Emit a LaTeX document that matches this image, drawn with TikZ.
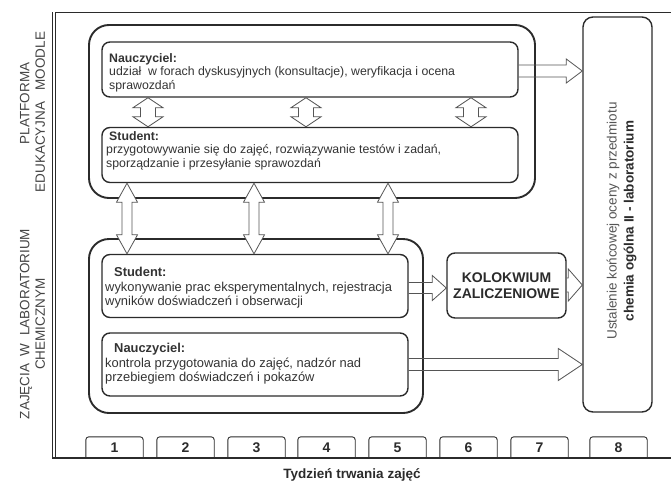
\documentclass[tikz,border=0pt]{standalone}
\usepackage{fontspec}
\setmainfont{Liberation Sans}
\usetikzlibrary{calc}
\definecolor{ln}{HTML}{2B2B2B}
\definecolor{tx}{HTML}{333333}
\definecolor{ar}{HTML}{555555}
\definecolor{lt}{HTML}{555555}
\definecolor{sd}{HTML}{444444}

% vertical double arrow: #1 x, #2 upper node, #3 lower node, #4 half head width, #5 half shaft width, #6 head length
\newcommand{\vdarrow}[6]{%
  \draw[dblarr] let \p1=(#2.south), \p2=(#3.north) in
   (#1pt,\y1) -- ({#1pt+#4pt},{\y1-#6pt}) -- ({#1pt+#5pt},{\y1-#6pt})
   -- ({#1pt+#5pt},{\y2+#6pt}) -- ({#1pt+#4pt},{\y2+#6pt}) -- (#1pt,\y2)
   -- ({#1pt-#4pt},{\y2+#6pt}) -- ({#1pt-#5pt},{\y2+#6pt})
   -- ({#1pt-#5pt},{\y1-#6pt}) -- ({#1pt-#4pt},{\y1-#6pt}) -- cycle;}
% horizontal single arrow: #1 y, #2 from node, #3 to node, #4 half head, #5 half shaft, #6 head length
\newcommand{\hsarrow}[6]{%
  \draw[sarr] let \p1=(#2.east), \p2=(#3.west) in
   (\x1,{-#1pt+#5pt}) -- ({\x2-#6pt},{-#1pt+#5pt}) -- ({\x2-#6pt},{-#1pt+#4pt})
   -- (\x2,-#1pt) -- ({\x2-#6pt},{-#1pt-#4pt}) -- ({\x2-#6pt},{-#1pt-#5pt})
   -- (\x1,{-#1pt-#5pt});}

\begin{document}
\begin{tikzpicture}[x=1pt,y=-1pt,text=tx,
  outerbox/.style={draw=ln, line width=1.9pt, rounded corners=20pt, inner sep=0pt},
  inbox/.style={draw=ln, line width=1.4pt, rounded corners=8pt, inner sep=0pt},
  weeknum/.style={inner sep=0pt, minimum width=57pt, minimum height=21pt, font=\fontsize{14}{14}\selectfont\bfseries, text=ln},
  weekline/.style={draw=ln, line width=0.9pt, rounded corners=3pt},
  txtM/.style={align=left, anchor=north west, inner sep=0pt, font=\fontsize{12.3}{13.8}\selectfont},
  txtL/.style={align=left, anchor=north west, inner sep=0pt, font=\fontsize{12.9}{14.5}\selectfont},
  side/.style={rotate=90, align=center, inner sep=0pt, font=\fontsize{13.5}{15.5}\selectfont, text=sd},
  dblarr/.style={draw=ar, line width=0.8pt, fill=white},
  sarr/.style={draw=ar, line width=0.8pt},
  frame/.style={draw=ln, line width=0.9pt}]

\useasboundingbox (0,0) rectangle (671,485);

% main frame
\draw[frame] (52,12) -- (52,458);
\draw[frame] (55.5,12) -- (55.5,458);
\draw[frame] (55.5,12) -- (671,12);

% outer groups
\node[outerbox, minimum width=446pt, minimum height=173pt] (mO) at (312,111.5) {};
\node[outerbox, minimum width=334pt, minimum height=174pt] (lO) at (256,326) {};

% inner boxes
\node[inbox, minimum width=416pt, minimum height=55pt] (mN) at (310,69.5) {};
\node[inbox, minimum width=416pt, minimum height=55pt] (mS) at (310,155) {};
\node[inbox, minimum width=306pt, minimum height=63pt] (lS) at (255,286) {};
\node[inbox, minimum width=306pt, minimum height=63pt] (lN) at (255,364.5) {};
\node[inbox, minimum width=119pt, minimum height=65pt, align=center,
      font=\fontsize{14}{16.5}\selectfont\bfseries, text=ln] (K) at (506.5,285.5) {KOLOKWIUM\\ZALICZENIOWE};
\node[inbox, rounded corners=10pt, minimum width=69pt, minimum height=395pt] (R) at (617.5,214.5) {};

% box texts
\node[txtM] (tmN) at (109,53) {\textbf{Nauczyciel:}\\udział\ \ w forach dyskusyjnych (konsultacje), weryfikacja i ocena\\sprawozdań};
\node[txtM] (tmS) at (106,131) {\hspace*{3pt}\textbf{Student:}\\przygotowywanie się do zajęć, rozwiązywanie testów i zadań,\\sporządzanie i przesyłanie sprawozdań};
\node[txtL] (tlS) at (105,267) {\hspace*{9pt}\textbf{Student:}\\wykonywanie prac eksperymentalnych, rejestracja\\wyników doświadczeń i obserwacji};
\node[txtL] (tlN) at (105,343) {\hspace*{9pt}\textbf{Nauczyciel:}\\kontrola przygotowania do zajęć, nadzór nad\\przebiegiem doświadczeń i pokazów};

\node[rotate=90, align=center, inner sep=0pt, font=\fontsize{13.5}{17}\selectfont] (tR) at (621.5,221)
  {\textcolor{lt}{Ustalenie końcowej oceny z przedmiotu}\\\textcolor{ln}{\textbf{chemia ogólna II - laboratorium}}};

% side labels
\node[side] (sM) at (32.5,112) {\hspace*{17pt}PLATFORMA\\EDUKACYJNA\ \ \ MOODLE};
\node[side] (sL) at (32.5,324) {ZAJĘCIA\ \ W\ \ LABORATORIUM\\CHEMICZNYM};

% arrows between Moodle boxes
\vdarrow{148}{mN}{mS}{15}{7.5}{10}
\vdarrow{306}{mN}{mS}{15}{7.5}{10}
\vdarrow{471}{mN}{mS}{15}{7.5}{10}
% arrows between platform and laboratory
\vdarrow{127}{mS}{lS}{10.5}{5}{19}
\vdarrow{254}{mS}{lS}{10.5}{5}{19}
\vdarrow{388}{mS}{lS}{10.5}{5}{19}

% arrows to the right
\hsarrow{71}{mN}{R}{12}{6}{16}
\hsarrow{288}{lS}{K}{12.5}{5.5}{14}
\hsarrow{285}{K}{R}{16}{7}{14}
\hsarrow{364.5}{lN}{R}{16}{6}{24}

% week boxes
\foreach \i/\x in {1/114.5,2/185.5,3/256.5,4/326.5,5/397.5,6/468.5,7/539.5,8/618.5}{
  \node[weeknum] (w\i) at (\x,447.5) {\i};
  \draw[weekline] (w\i.south west) |- (w\i.north) -| (w\i.south east);
}
\draw[ln, line width=2.4pt] (52,458) -- (671,458);

\node[font=\fontsize{13.5}{14}\selectfont\bfseries, text=ln, inner sep=0pt] (xl) at (352,475) {Tydzień trwania zajęć};
\end{tikzpicture}
\end{document}
